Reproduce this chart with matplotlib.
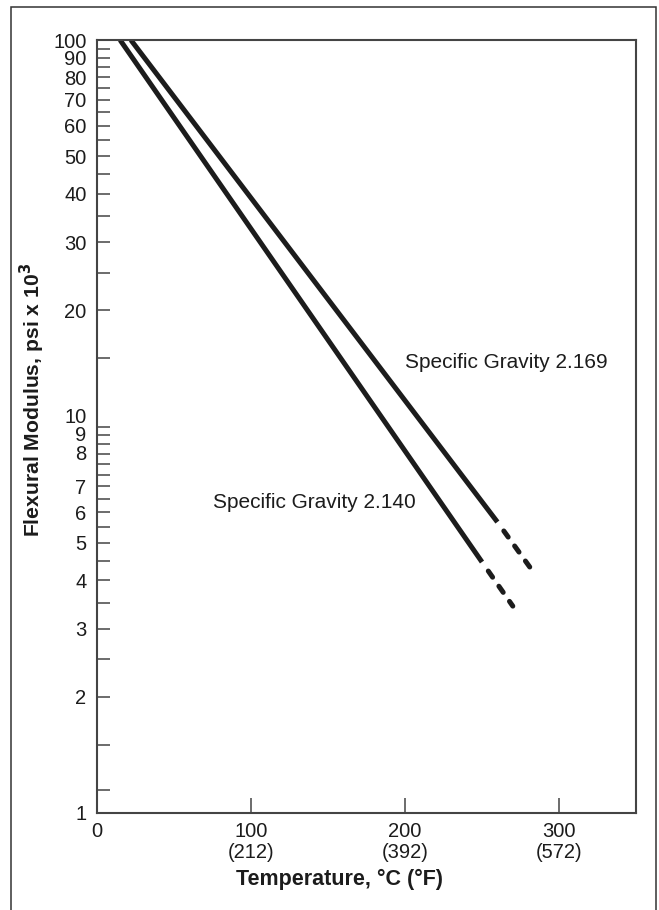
import matplotlib
matplotlib.use("Agg")
import matplotlib.pyplot as plt
import matplotlib.transforms as mtransforms
from matplotlib.patches import Rectangle

plt.rcParams['font.family'] = ['Liberation Sans', 'DejaVu Sans']

# temperature (°C) / flexural modulus (psi x 10^3)
temp_2169_solid = [22, 260]
mod_2169_solid = [100, 5.66]
temp_2169_dash = [260, 281]
mod_2169_dash = [5.66, 4.33]

temp_2140_solid = [15, 250]
mod_2140_solid = [100, 4.46]
temp_2140_dash = [250, 270]
mod_2140_dash = [4.46, 3.43]

y_major = [1, 2, 3, 4, 5, 6, 7, 8, 9, 10, 20, 30, 40, 50, 60, 70, 80, 90, 100]
y_minor = [1.15, 1.5, 2.5, 3.5, 4.5, 5.5, 6.5, 7.5, 8.5, 9.5,
           15, 25, 35, 45, 55, 65, 75, 85, 95]
x_ticks = [0, 100, 200, 300]
x_labels = ['0', '100\n(212)', '200\n(392)', '300\n(572)']

ink = '#1c1c1c'
frame = '#444444'

fig = plt.figure(figsize=(6.59, 9.10), dpi=100)
ax = fig.add_axes([97 / 659, 1 - 813 / 910, 539 / 659, 773 / 910])

# outer box around the whole figure
fig.patches.append(Rectangle((11 / 659, -0.01), 645 / 659, 0.01 + 903 / 910,
                             transform=fig.transFigure, fill=False,
                             edgecolor='#333333', linewidth=1.1))

lw = 3.6
ax.plot(temp_2169_solid, mod_2169_solid, color=ink, lw=lw, solid_capstyle='butt')
ax.plot(temp_2169_dash, mod_2169_dash, color=ink, lw=lw,
        linestyle=(1.5, (1.5, 2.2)), dash_capstyle='round')
ax.plot(temp_2140_solid, mod_2140_solid, color=ink, lw=lw, solid_capstyle='butt')
ax.plot(temp_2140_dash, mod_2140_dash, color=ink, lw=lw,
        linestyle=(1.5, (1.5, 2.2)), dash_capstyle='round')

ax.text(200, 14.6, 'Specific Gravity 2.169', fontsize=15, color=ink, va='center')
ax.text(75.3, 6.34, 'Specific Gravity 2.140', fontsize=15, color=ink, va='center')

ax.set_yscale('log')
ax.set_xlim(0, 350)
ax.set_ylim(1, 100)

ax.set_yticks(y_major)
ax.set_yticklabels([str(v) for v in y_major])
ax.set_yticks(y_minor, minor=True)
ax.yaxis.set_minor_formatter(matplotlib.ticker.NullFormatter())
ax.set_xticks(x_ticks)
ax.set_xticklabels(x_labels, linespacing=1.1)

ax.tick_params(axis='y', which='both', direction='in', length=9.5, width=1.1,
               color=frame, labelsize=14.5, labelcolor=ink, pad=7.5)
ax.tick_params(axis='x', which='major', direction='in', length=11, width=1.1,
               color=frame, labelsize=14.5, labelcolor=ink, pad=6.5)
# the 0 tick is not drawn on the reference
ax.xaxis.get_major_ticks()[0].tick1line.set_visible(False)

# labels 10, 9 and 8 sit a little above their ticks
shift = mtransforms.ScaledTranslation(0, 8 / 72, fig.dpi_scale_trans)
for t in ax.yaxis.get_major_ticks():
    if t.label1.get_text() in ('10', '9', '8'):
        t.label1.set_transform(t.label1.get_transform() + shift)

for s in ax.spines.values():
    s.set_color(frame)
    s.set_linewidth(1.5)

ax.set_xlabel('Temperature, °C (°F)', fontsize=15.5, fontweight='bold', color=ink)
ax.xaxis.set_label_coords(0.449, -0.072)
ax.set_ylabel('Flexural Modulus, psi x 10$^\\mathbf{3}$', fontsize=15.2,
              fontweight='bold', color=ink)
ax.yaxis.set_label_coords(-0.092, 0.534)

fig.savefig('out.png', dpi=100)
